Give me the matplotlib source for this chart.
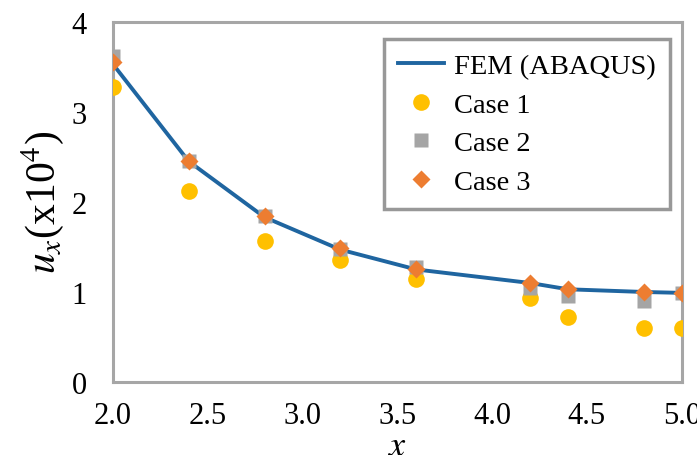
import numpy as np
import matplotlib.pyplot as plt

# Data
x_fem = [2.0, 2.4, 2.8, 3.2, 3.6, 4.2, 4.4, 4.8, 5.0]
u_fem = [3.53, 2.45, 1.83, 1.47, 1.25, 1.10, 1.03, 1.00, 0.99]

x_pts = [2.0, 2.4, 2.8, 3.2, 3.6, 4.2, 4.4, 4.8, 5.0]
case1 = [3.28, 2.12, 1.57, 1.35, 1.14, 0.93, 0.72, 0.60, 0.60]
case2 = [3.62, 2.45, 1.84, 1.48, 1.28, 1.04, 0.95, 0.90, 0.99]
case3 = [3.55, 2.45, 1.84, 1.49, 1.26, 1.10, 1.03, 1.00, 0.99]

xticks = [2.0, 2.5, 3.0, 3.5, 4.0, 4.5, 5.0]
yticks = [0, 1, 2, 3, 4]

plt.rcParams['font.family'] = ['Liberation Serif', 'DejaVu Serif']
plt.rcParams['mathtext.fontset'] = 'stix'

fig = plt.figure(figsize=(6.97, 4.56), dpi=100)
ax = fig.add_axes([0.162, 0.160, 0.816, 0.790])

ax.plot(x_fem, u_fem, color='#1F65A0', lw=2.8, label='FEM (ABAQUS)', zorder=2)
ax.plot(x_pts, case1, 'o', color='#FFC000', ms=12, mec='none', label='Case 1', zorder=3)
ax.plot(x_pts, case2, 's', color='#A5A5A5', ms=10.5, mec='none', label='Case 2', zorder=4)
ax.plot(x_pts, case3, 'D', color='#ED7D31', ms=9, mec='none', label='Case 3', zorder=5)

ax.set_xlim(2.0, 5.0)
ax.set_ylim(0, 4)
ax.set_xticks(xticks)
ax.set_xticklabels(['%.1f' % t for t in xticks])
ax.set_yticks(yticks)
ax.tick_params(length=0, labelsize=22)
ax.tick_params(axis='x', pad=14)
ax.tick_params(axis='y', pad=19)

for s in ax.spines.values():
    s.set_color('#A6A6A6')
    s.set_linewidth(2.2)

ax.set_ylabel(r'$u_x$(x10$^4$)', fontsize=30, labelpad=4)
ax.set_xlabel(r'$x$', fontsize=26, labelpad=0)

leg = ax.legend(loc='upper right', bbox_to_anchor=(0.979, 0.953), fontsize=20.5,
                frameon=True, fancybox=False, borderpad=0.5, labelspacing=0.45,
                handlelength=1.6, handletextpad=0.35, borderaxespad=0)
leg.get_frame().set_edgecolor('#7F7F7F')
leg.get_frame().set_linewidth(2.5)

plt.savefig('out.png', dpi=100)
